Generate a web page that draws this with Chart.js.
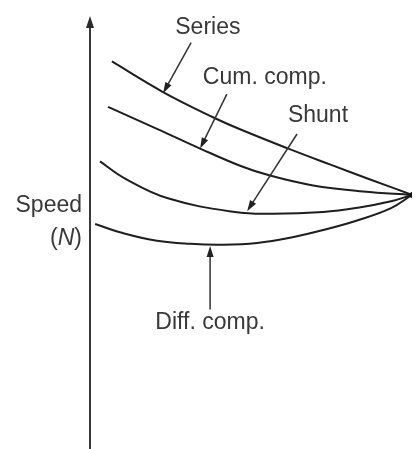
<!DOCTYPE html>
<html>
<head>
<meta charset="utf-8">
<script src="https://cdn.jsdelivr.net/npm/chart.js@4/dist/chart.umd.min.js"></script>
<style>
    html, body { margin: 0; padding: 0; background: #fff; }
    #wrap { width: 416px; height: 449px; position: relative; }
</style>
</head>
<body>
<div id="wrap"><canvas id="chartSpeed"></canvas></div>
<script>
// Carga (0-100) vs velocidade (0-100)
const seriesLoad = [6.8, 22.4, 38.2, 46.6, 61.2, 74.5, 87.0, 100];
const seriesSpeed = [89.4, 82.4, 76.4, 73.6, 69.2, 65.4, 61.9, 58.3];

const cumLoad = [5.6, 20.8, 34.2, 46.6, 55.9, 69.3, 84.8, 100];
const cumSpeed = [78.8, 73.7, 69.1, 65.1, 62.8, 60.5, 59.1, 58.3];

const shuntLoad = [3.1, 10.9, 24.2, 45.0, 56.8, 72.4, 83.2, 93.5, 100];
const shuntSpeed = [66.1, 62.1, 57.5, 54.3, 53.9, 54.3, 55.3, 56.8, 58.3];

const diffLoad = [1.6, 10.2, 20.8, 31.1, 41.3, 51.9, 62.1, 72.4, 83.2, 93.5, 100];
const diffSpeed = [51.5, 49.4, 47.6, 46.9, 46.7, 47.1, 48.3, 50.1, 52.4, 55.2, 58.3];

// Rótulos das curvas e setas
const labelText = ["Series", "Cum. comp.", "Shunt", "Diff. comp."];
const labelX = [36.6, 54.3, 70.8, 37.3];
const labelY = [97.2, 85.7, 76.7, 28.6];

const arrowFromX = [31.4, 42.5, 64.3, 37.3];
const arrowFromY = [93.8, 81.8, 72.5, 31.6];
const arrowToX = [22.7, 34.2, 48.8, 37.3];
const arrowToY = [82.0, 69.1, 54.5, 46.4];

const axisTitle = ["Speed", "(N)"];
const axisTitleY = [55.8, 48.0];

function toPoints(xs, ys) {
    return xs.map((x, i) => ({ x: x, y: ys[i] }));
}

function drawHead(ctx, x1, y1, x2, y2, len, half) {
    const a = Math.atan2(y2 - y1, x2 - x1);
    ctx.beginPath();
    ctx.moveTo(x2, y2);
    ctx.lineTo(x2 - len * Math.cos(a) + half * Math.sin(a), y2 - len * Math.sin(a) - half * Math.cos(a));
    ctx.lineTo(x2 - len * Math.cos(a) - half * Math.sin(a), y2 - len * Math.sin(a) + half * Math.cos(a));
    ctx.closePath();
    ctx.fill();
}

const FONT = "23px 'Liberation Sans', Arial, sans-serif";

// Eixo, setas e textos
const extras = {
    id: "extras",
    afterDatasetsDraw(chart) {
        const ctx = chart.ctx;
        const xs = chart.scales.x;
        const ys = chart.scales.y;
        const area = chart.chartArea;
        ctx.save();

        // eixo vertical com seta
        const ax = xs.getPixelForValue(0);
        ctx.strokeStyle = "#3a3a3a";
        ctx.fillStyle = "#2a2a2a";
        ctx.lineWidth = 2;
        ctx.beginPath();
        ctx.moveTo(ax, chart.height);
        ctx.lineTo(ax, area.top + 6);
        ctx.stroke();
        drawHead(ctx, ax, area.bottom, ax, area.top, 12, 4);

        // setas dos rótulos
        ctx.strokeStyle = "#333";
        ctx.fillStyle = "#222";
        ctx.lineWidth = 1.5;
        for (let i = 0; i < arrowFromX.length; i++) {
            const x1 = xs.getPixelForValue(arrowFromX[i]);
            const y1 = ys.getPixelForValue(arrowFromY[i]);
            const x2 = xs.getPixelForValue(arrowToX[i]);
            const y2 = ys.getPixelForValue(arrowToY[i]);
            const a = Math.atan2(y2 - y1, x2 - x1);
            ctx.beginPath();
            ctx.moveTo(x1, y1);
            ctx.lineTo(x2 - 6 * Math.cos(a), y2 - 6 * Math.sin(a));
            ctx.stroke();
            drawHead(ctx, x1, y1, x2, y2, 11, 3.5);
        }

        // textos
        ctx.font = FONT;
        ctx.fillStyle = "#383838";
        ctx.textAlign = "center";
        ctx.textBaseline = "middle";
        labelText.forEach((t, i) => {
            ctx.fillText(t, xs.getPixelForValue(labelX[i]), ys.getPixelForValue(labelY[i]));
        });

        ctx.textAlign = "right";
        ctx.fillText(axisTitle[0], area.left - 8, ys.getPixelForValue(axisTitleY[0]));
        const ny = ys.getPixelForValue(axisTitleY[1]);
        const rx = area.left - 8;
        const wClose = ctx.measureText(")").width;
        ctx.fillText(")", rx, ny);
        ctx.font = "italic " + FONT;
        const wN = ctx.measureText("N").width;
        ctx.fillText("N", rx - wClose, ny);
        ctx.font = FONT;
        ctx.fillText("(", rx - wClose - wN, ny);

        ctx.restore();
    }
};

document.addEventListener("DOMContentLoaded", () => {
    const el = document.getElementById("chartSpeed");

    const lineStyle = {
        borderColor: "#1e1e1e",
        borderWidth: 2,
        fill: false,
        tension: 0.4,
        pointRadius: (c) => c.dataIndex === c.dataset.data.length - 1 ? 2.5 : 0,
        pointBackgroundColor: "#111",
        pointBorderWidth: 0
    };

    new Chart(el, {
        type: "line",
        data: {
            datasets: [
                Object.assign({ label: "Series", data: toPoints(seriesLoad, seriesSpeed) }, lineStyle),
                Object.assign({ label: "Cum. comp.", data: toPoints(cumLoad, cumSpeed) }, lineStyle),
                Object.assign({ label: "Shunt", data: toPoints(shuntLoad, shuntSpeed) }, lineStyle),
                Object.assign({ label: "Diff. comp.", data: toPoints(diffLoad, diffSpeed) }, lineStyle)
            ]
        },
        options: {
            responsive: true,
            maintainAspectRatio: false,
            animation: false,
            layout: { padding: { left: 90, right: 3, top: 16, bottom: 0 } },
            plugins: {
                legend: { display: false },
                tooltip: { enabled: false }
            },
            scales: {
                x: { type: "linear", min: 0, max: 100, display: false },
                y: { type: "linear", min: 0, max: 100, display: false }
            }
        },
        plugins: [extras]
    });
});
</script>
</body>
</html>
